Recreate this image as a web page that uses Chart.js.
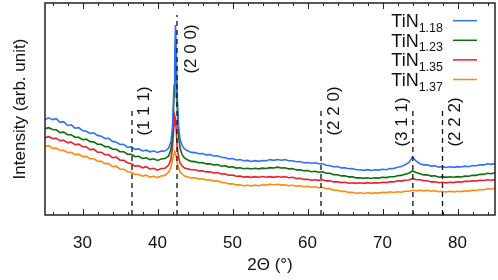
<!DOCTYPE html>
<html>
<head>
<meta charset="utf-8">
<script src="https://cdn.jsdelivr.net/npm/chart.js@4.4.1/dist/chart.umd.min.js"></script>
<style>
  html, body { margin: 0; padding: 0; background: #fff; }
  #wrap { width: 498px; height: 280px; }
</style>
</head>
<body>
<div id="wrap"><canvas id="xrd" width="498" height="280"></canvas></div>
<script>
// ── Data ────────────────────────────────────────────────────────────────
const twoTheta = [
  25, 25.5, 26, 26.5, 27, 27.5, 28, 28.5, 29, 29.5, 30, 30.5, 31, 31.5, 32, 32.5, 33, 33.5, 34, 34.5,
  35, 35.5, 36, 36.5, 37, 37.5, 38, 38.5, 39, 39.5, 40, 40.5, 41,
  41.5, 41.8, 42, 42.2, 42.3, 42.4, 42.5, 42.6, 42.8, 43, 43.3, 43.6,
  44, 44.5, 45, 45.5, 46, 46.5, 47, 47.5, 48, 48.5, 49, 49.5, 50, 50.5, 51, 51.5, 52, 52.5, 53, 53.5,
  54, 54.5, 55, 55.5, 56, 56.5, 57, 57.5, 58, 58.5, 59, 59.5, 60, 60.5, 61, 61.5, 62, 62.5, 63, 63.5,
  64, 64.5, 65, 65.5, 66, 66.5, 67, 67.5, 68, 68.5, 69, 69.5, 70, 70.5, 71, 71.5, 72, 72.5, 73, 73.5,
  74, 74.5, 75, 75.5, 76, 76.5, 77, 77.5, 78, 78.5, 79, 79.5, 80, 80.5, 81, 81.5, 82, 82.5, 83, 83.5,
  84, 84.5, 85
];

const tin118 = [
  95.5, 97.2, 95.4, 96.3, 92.6, 93.4, 89.5, 90.2, 86.8, 87.3, 84.4, 83.8, 81.5, 82.2, 79.6, 78.7, 76.5, 76.8, 73.6, 72.8,
  70.5, 70.7, 67.6, 68.2, 65.7, 66.1, 64.0, 64.8, 63.2, 64.0, 62.6, 63.9, 64.0,
  67, 74, 88, 130, 165, 190, 168, 125, 90, 76, 69, 66,
  64.3, 62.6, 62.4, 61.2, 61.5, 60.1, 60.4, 59.0, 59.3, 57.8, 57.4, 56.1, 56.5, 55.0, 55.4, 54.2, 54.6, 53.5, 54.4, 53.6,
  54.5, 54.3, 55.4, 54.6, 55.5, 54.8, 55.4, 54.2, 54.3, 53.2, 53.4, 52.2, 52.5, 51.7, 52.3, 51.2, 51.2, 49.8, 49.3, 48.2,
  48.4, 47.1, 47.3, 46.2, 46.4, 45.2, 45.3, 44.6, 45.4, 44.5, 45.3, 44.9, 45.8, 45.3, 46.4, 46.5, 47.8, 48.4, 50.2, 52.3,
  58.0, 53.8, 51.3, 50.1, 50.3, 48.9, 49.3, 47.8, 48.4, 47.5, 48.3, 47.6, 48.4, 48.0, 48.9, 48.3, 49.4, 49.2, 50.3, 50.1,
  51.3, 50.6, 51.4
];

const tin123 = [
  86.4, 87.3, 85.5, 85.2, 82.4, 82.9, 80.3, 80.2, 77.8, 77.6, 75.3, 75.8, 73.4, 73.1, 70.8, 70.6, 68.4, 68.2, 65.8, 65.6,
  63.3, 63.2, 60.8, 60.6, 58.3, 58.7, 56.5, 57.2, 55.4, 56.2, 54.6, 56.0, 56.4,
  59, 66, 80, 118, 148, 166, 150, 112, 80, 67, 60, 57,
  55.3, 53.6, 53.4, 52.2, 52.4, 51.1, 51.3, 50.0, 50.4, 48.8, 49.3, 47.9, 48.3, 46.9, 47.3, 46.2, 46.8, 46.0, 46.8, 46.1,
  46.9, 46.5, 47.4, 47.0, 47.9, 47.0, 47.3, 46.1, 46.4, 45.1, 45.3, 44.2, 44.4, 43.2, 43.8, 42.8, 43.2, 41.8, 41.7, 40.3,
  40.3, 39.1, 39.3, 38.1, 38.3, 37.1, 37.3, 36.6, 37.3, 36.5, 37.3, 36.9, 37.8, 37.4, 38.3, 38.2, 39.3, 39.6, 40.8, 41.8,
  44.0, 42.6, 41.3, 40.1, 40.3, 38.9, 39.3, 37.8, 38.4, 37.6, 38.3, 37.7, 38.4, 38.0, 38.9, 38.7, 39.8, 39.6, 40.8, 40.6,
  41.8, 41.3, 42.3
];

const tin135 = [
  77.4, 78.3, 76.5, 76.8, 74.4, 74.7, 72.4, 72.8, 70.4, 70.9, 68.3, 68.2, 65.4, 65.8, 62.9, 62.8, 60.3, 60.2, 57.3, 57.8,
  54.8, 54.7, 52.3, 51.2, 48.9, 49.3, 47.2, 48.3, 45.8, 46.7, 44.8, 46.5, 46.8,
  50, 56, 68, 90, 99, 96, 85, 70, 58, 52, 49, 47,
  46.3, 45.2, 45.3, 44.1, 44.3, 43.1, 43.3, 42.0, 42.4, 41.0, 41.3, 39.8, 39.9, 38.7, 38.9, 37.9, 38.4, 37.6, 38.4, 37.7,
  38.5, 37.7, 38.4, 37.6, 38.5, 37.7, 38.4, 37.3, 37.8, 36.5, 36.8, 35.6, 35.8, 34.8, 35.3, 34.6, 35.3, 34.1, 34.3, 33.1,
  33.3, 32.4, 32.8, 31.7, 32.3, 31.6, 32.3, 31.6, 32.4, 31.7, 32.4, 32.0, 32.8, 32.4, 33.3, 33.1, 34.3, 33.9, 34.8, 35.0,
  36.3, 35.3, 35.3, 34.2, 34.3, 33.1, 33.3, 32.2, 32.8, 32.1, 32.8, 32.4, 33.3, 32.9, 33.8, 33.6, 34.3, 34.0, 34.8, 34.5,
  35.3, 34.8, 35.4
];

const tin137 = [
  68.4, 69.3, 66.6, 66.9, 64.5, 64.8, 62.5, 62.7, 60.4, 60.8, 58.4, 58.6, 56.4, 56.2, 53.8, 53.6, 51.3, 51.4, 48.4, 48.8,
  45.9, 45.8, 43.3, 42.8, 40.5, 40.8, 38.9, 39.8, 37.9, 38.7, 37.4, 39.0, 39.6,
  43, 48, 55, 61, 63, 62, 58, 53, 47, 43, 41, 39,
  38.3, 37.1, 37.3, 36.0, 36.3, 35.0, 35.3, 33.9, 34.2, 32.6, 32.3, 31.1, 31.3, 30.1, 30.3, 29.3, 29.8, 29.1, 29.9, 29.3,
  30.3, 29.9, 30.8, 30.2, 30.8, 29.9, 30.3, 29.3, 29.8, 28.8, 29.3, 28.2, 28.8, 27.7, 28.3, 27.3, 27.8, 26.3, 26.3, 24.9,
  24.8, 23.6, 23.8, 22.6, 22.8, 21.7, 22.3, 21.5, 22.3, 21.6, 22.3, 21.9, 22.8, 22.4, 23.3, 22.5, 23.3, 22.8, 23.8, 23.7,
  24.8, 24.2, 24.8, 24.1, 24.8, 23.8, 24.3, 23.2, 23.8, 23.0, 23.8, 23.1, 23.8, 23.4, 24.3, 23.9, 24.8, 24.5, 25.3, 25.2,
  26.3, 26.0, 26.8
];

const seriesBase = ['TiN', 'TiN', 'TiN', 'TiN'];
const seriesSub = ['1.18', '1.23', '1.35', '1.37'];
const seriesValues = [tin118, tin123, tin135, tin137];

// reflections: hkl label, position (2θ) and height of the dashed marker
const reflLabels = ['(1 1 1)', '(2 0 0)', '(2 2 0)', '(3 1 1)', '(2 2 2)'];
const reflAngles = [36.6, 42.6, 61.8, 74.05, 78.0];
const reflTops = [108, 200, 108, 108, 108];

const xTickLabels = [30, 40, 50, 60, 70, 80];

// ── Styles ──────────────────────────────────────────────────────────────
const COLORS = ['#2f72f5', '#0a6e0a', '#e8202a', '#ff8a0a'];
const FONT = "'Liberation Sans', Arial, sans-serif";
// label placement: pixel offset from the marker, centre height (data units)
const REFL_PLACE = [
  { dx: 12, y: 104 }, { dx: 14, y: 166 }, { dx: 13, y: 104 }, { dx: -11, y: 93 }, { dx: 13, y: 93 }
];

const curveSets = seriesValues.map((vals, i) => ({
  label: seriesBase[i] + seriesSub[i],
  data: vals.map((v, j) => ({ x: twoTheta[j], y: v })),
  borderColor: COLORS[i],
  borderWidth: 1.6,
  pointRadius: 0,
  tension: 0,
  fill: false
}));

const markerSets = reflAngles.map((a, i) => ({
  label: reflLabels[i],
  data: [{ x: a, y: 0 }, { x: a, y: reflTops[i] }],
  borderColor: '#111',
  borderWidth: 1.3,
  borderDash: [5, 4],
  pointRadius: 0,
  fill: false
}));

// ── Plugins ─────────────────────────────────────────────────────────────
const frameTicks = {
  id: 'frameTicks',
  afterDatasetsDraw(chart) {
    const { ctx, chartArea: { left, right, top, bottom } } = chart;
    const xs = chart.scales.x;
    ctx.save();
    ctx.strokeStyle = '#222';
    ctx.lineWidth = 1;
    for (let v = xs.min + 1; v < xs.max; v += 2) {
      const px = Math.round(xs.getPixelForValue(v)) + 0.5;
      const len = v % 10 === 0 ? 6 : 3;
      ctx.beginPath();
      ctx.moveTo(px, bottom); ctx.lineTo(px, bottom - len);
      ctx.moveTo(px, top); ctx.lineTo(px, top + len);
      ctx.stroke();
    }
    ctx.lineWidth = 1.5;
    ctx.strokeRect(left, top, right - left, bottom - top);
    ctx.restore();
  }
};

const reflText = {
  id: 'reflText',
  afterDatasetsDraw(chart) {
    const { ctx } = chart;
    const xs = chart.scales.x, ys = chart.scales.y;
    ctx.save();
    ctx.fillStyle = '#111';
    ctx.font = '17px ' + FONT;
    ctx.textAlign = 'center';
    ctx.textBaseline = 'middle';
    reflLabels.forEach((t, i) => {
      const x = xs.getPixelForValue(reflAngles[i]) + REFL_PLACE[i].dx;
      const y = ys.getPixelForValue(REFL_PLACE[i].y);
      ctx.save();
      ctx.translate(x, y);
      ctx.rotate(-Math.PI / 2);
      ctx.fillText(t, 0, 0);
      ctx.restore();
    });
    ctx.restore();
  }
};

const subLegend = {
  id: 'subLegend',
  afterDraw(chart) {
    const { ctx, chartArea } = chart;
    const textRight = chartArea.right - 52;
    const lineX0 = chartArea.right - 42, lineX1 = chartArea.right - 18;
    ctx.save();
    seriesBase.forEach((base, i) => {
      const rowY = chartArea.top + 17.7 + i * 19.6;
      ctx.font = '12.5px ' + FONT;
      const subW = ctx.measureText(seriesSub[i]).width;
      ctx.fillStyle = '#111';
      ctx.textAlign = 'right';
      ctx.textBaseline = 'alphabetic';
      ctx.fillText(seriesSub[i], textRight, rowY + 11);
      ctx.font = '18px ' + FONT;
      ctx.fillText(base, textRight - subW, rowY + 6.5);
      ctx.strokeStyle = COLORS[i];
      ctx.lineWidth = 1.5;
      ctx.beginPath();
      ctx.moveTo(lineX0, rowY); ctx.lineTo(lineX1, rowY);
      ctx.stroke();
    });
    ctx.restore();
  }
};

// ── Chart ───────────────────────────────────────────────────────────────
new Chart(document.getElementById('xrd'), {
  type: 'line',
  data: { datasets: [...markerSets, ...curveSets] },
  plugins: [frameTicks, reflText, subLegend],
  options: {
    responsive: false,
    animation: false,
    layout: { padding: { top: 3, right: 3, left: 0, bottom: 0 } },
    plugins: { legend: { display: false }, tooltip: { enabled: false } },
    scales: {
      x: {
        type: 'linear',
        min: 25,
        max: 85,
        grid: { display: false },
        border: { display: false },
        afterBuildTicks: (s) => { s.ticks = xTickLabels.map(v => ({ value: v })); },
        afterFit: (s) => { s.height = 65; },
        ticks: { color: '#111', font: { family: FONT, size: 17 }, padding: 10, maxRotation: 0, autoSkip: false },
        title: { display: true, text: '2Θ (°)', color: '#111', font: { family: FONT, size: 17 }, padding: { top: 0, bottom: 4 } }
      },
      y: {
        type: 'linear',
        min: 0,
        max: 212,
        grid: { display: false },
        border: { display: false },
        ticks: { display: false },
        afterFit: (s) => { s.width = 45; },
        title: { display: true, text: 'Intensity (arb. unit)', color: '#111', font: { family: FONT, size: 17 }, padding: { top: 10, bottom: 0 } }
      }
    }
  }
});
</script>
</body>
</html>
